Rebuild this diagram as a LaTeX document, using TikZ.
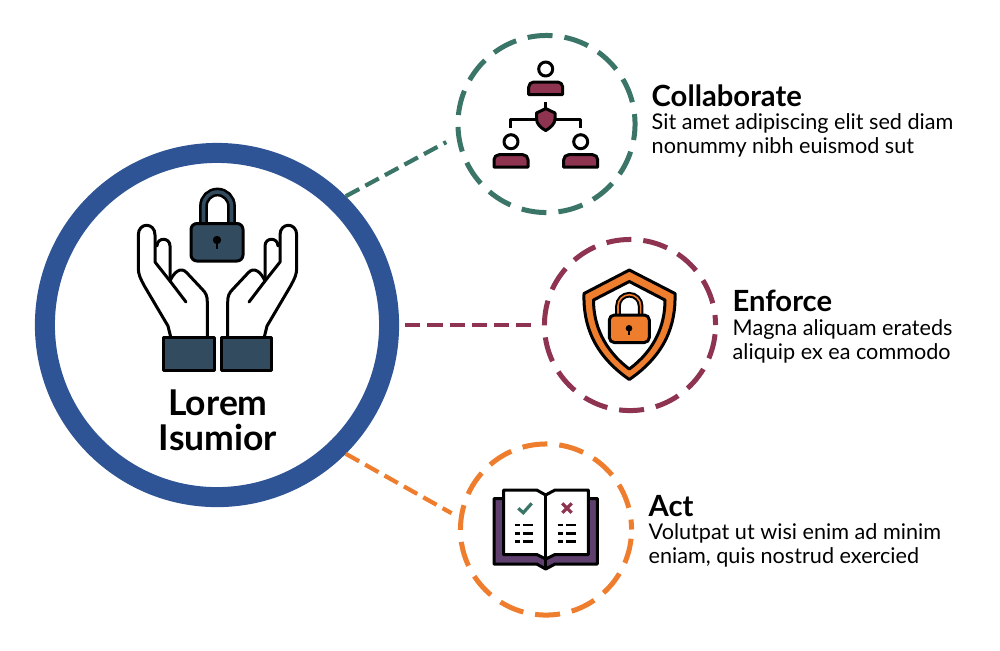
\documentclass[tikz,border=0pt]{standalone}
\usepackage{fontspec}
\setmainfont{Lato}
\usepackage{xcolor}
\definecolor{ringblue}{HTML}{2E5496}
\definecolor{tealgreen}{HTML}{3A7567}
\definecolor{maroon}{HTML}{8E3350}
\definecolor{lockorange}{HTML}{EE7D2E}
\definecolor{bookpurple}{HTML}{5E3F6E}
\definecolor{slate}{HTML}{324B5E}
\tikzset{
  hub/.style={circle,draw=ringblue,line width=2mm,minimum size=34.4mm,inner sep=0},
  spoke/.style={circle,line width=.5mm,dash pattern=on 2.5mm off 1.2mm,dash phase=1.5mm,minimum size=#1,inner sep=0},
  link/.style={line width=.42mm,dash pattern=on 1.53mm off .69mm},
  icon/.style={draw=black,line width=.3mm,line join=round},
  head/.style={font=\fontsize{8.3pt}{8.3pt}\selectfont\bfseries,anchor=base west,inner sep=0},
  blurb/.style={font=\fontsize{6.15pt}{6.83pt}\selectfont,anchor=base west,align=left,inner sep=0},
  hubtext/.style={font=\fontsize{10.1pt}{10pt}\selectfont\bfseries,align=center,inner sep=0}
}
\begin{document}
\begin{tikzpicture}[x=0.01cm,y=-0.01cm]
\useasboundingbox (0,0) rectangle (1000,650);
% the big ring and the three dashed rings
\node[hub] (main) at (217,325) {};
\node[spoke=17.7mm,draw=tealgreen] (collab) at (546.5,124) {};
\node[spoke=17.1mm,draw=maroon] (enforce) at (630,325) {};
\node[spoke=17.1mm,draw=lockorange] (act) at (546,529.5) {};
\draw[link,tealgreen,shorten >=1.14mm] (main.45) -- (collab.188.5);
\draw[link,maroon,shorten <=.6mm,shorten >=1.03mm] (main.0) -- (enforce.180);
\draw[link,lockorange,shorten >=.83mm] (main.-45) -- (act.172);
% hands
\foreach \flip/\shiftx in {1/0,-1/435}{
  \begin{scope}[shift={(\shiftx,0)},xscale=\flip]
  \draw[icon,fill=white,line cap=round] (170.7,337) -- (168,326) -- (145,287) .. controls (140,278) and (138.3,274) .. (138.3,268)
    -- (138.3,235) .. controls (138.3,222) and (155,222) .. (155,235) -- (155,262) -- (170,281)
    .. controls (174,272) and (181,266) .. (187,273) -- (202,289) .. controls (206,293) and (207.3,296) .. (207.3,302) -- (207.3,337);
  \draw[icon,line cap=round] (170,281) -- (186,302);
  \draw[icon,line cap=round] (157,246) .. controls (157,237) and (170,237) .. (170,246) -- (170,279);
  \filldraw[icon,fill=slate] (163.5,337.5) rectangle (214,370.5);
  \end{scope}
}
% lock over the hands
\draw[black,line width=.88mm] (203.5,226) -- (203.5,206) arc[start angle=180,end angle=360,radius=14] -- (231.5,226);
\draw[slate,line width=.36mm] (203.5,226) -- (203.5,206) arc[start angle=180,end angle=360,radius=14] -- (231.5,226);
\filldraw[icon,fill=slate,rounded corners=.6mm] (191,223.5) rectangle (243,261);
\fill[black] (217,240) circle (4.2);
\fill[black] (215.7,240) rectangle (218.3,249);
\node[hubtext] (maintext) at (218,420) {Lorem\\Isumior};
% people and shield
\foreach \headx/\heady in {545.7/69,511/141.7,580.7/141.7}{
  \draw[icon,fill=white] (\headx,\heady) circle (7);
  \filldraw[icon,fill=maroon] (\headx-17,\heady+25.5) [rounded corners=.5mm] -- (\headx-17,\heady+13) -- (\headx+17,\heady+13) [sharp corners] -- (\headx+17,\heady+25.5) -- cycle;
}
\draw[icon] (545.7,102) -- (545.7,110);
\draw[icon] (510,127.5) -- (510,119) -- (580.7,119) -- (580.7,127.5);
\filldraw[icon,fill=maroon] (545.7,108.5) -- (555,113) -- (555,119) .. controls (555,124) and (550,128) .. (545.7,130.5) .. controls (541,128) and (536.5,124) .. (536.5,119) -- (536.5,113) -- cycle;
% shield with lock
\filldraw[icon,fill=lockorange] (629.3,270) -- (675,293.5) .. controls (676,325) and (665,355) .. (629.3,379.5) .. controls (594,355) and (583,325) .. (584,293.5) -- cycle;
\filldraw[icon,fill=white] (629.3,281.5) -- (665,300) .. controls (665,325) and (655,350) .. (629.3,369) .. controls (604,350) and (593.5,325) .. (593.5,300) -- cycle;
\draw[black,line width=.56mm] (618,318) -- (618,306) arc[start angle=180,end angle=360,radius=11.3] -- (640.6,318);
\draw[lockorange,line width=.16mm] (618,318) -- (618,306) arc[start angle=180,end angle=360,radius=11.3] -- (640.6,318);
\filldraw[icon,fill=lockorange,rounded corners=.5mm] (609.3,315) rectangle (649.3,342.5);
\fill[black] (629,328.3) circle (3.3);
\fill[black] (628,328) rectangle (630,334.5);
% book
\filldraw[icon,fill=bookpurple] (494,498.5) -- (597.3,498.5) -- (597.3,564) -- (555,564) -- (545.7,569) -- (536.7,564) -- (494,564) -- cycle;
\filldraw[icon,fill=white] (503.5,490) -- (536.7,490) -- (545.7,495) -- (555,490) -- (588.3,490) -- (588.3,554.5) -- (555,554.5) -- (545.7,559) -- (536.7,554.5) -- (503.5,554.5) -- cycle;
\draw[icon] (545.7,495) -- (545.7,569);
\draw[tealgreen,line width=.32mm] (518.3,508.3) -- (523.3,512.7) -- (531.7,503.3);
\draw[maroon,line width=.32mm] (562.3,503.3) -- (571.7,512.7) (571.7,503.3) -- (562.3,512.7);
\foreach \rowy in {525,533.3,541.7}{
  \draw[black,line width=.27mm] (515,\rowy) -- (520,\rowy) (523.3,\rowy) -- (533.3,\rowy);
  \draw[black,line width=.27mm] (557.7,\rowy) -- (562.7,\rowy) (566,\rowy) -- (576,\rowy);
}
% labels
\node[head] (collabhead) at (651,106) {Collaborate};
\node[blurb] (collabtext) at (651,153) {Sit amet adipiscing elit sed diam\\nonummy nibh euismod sut};
\node[head] (enforcehead) at (732,311) {Enforce};
\node[blurb] (enforcetext) at (732,359) {Magna aliquam erateds\\aliquip ex ea commodo};
\node[head] (acthead) at (648,516) {Act};
\node[blurb] (acttext) at (648,563) {Volutpat ut wisi enim ad minim\\eniam, quis nostrud exercied};
\end{tikzpicture}
\end{document}
